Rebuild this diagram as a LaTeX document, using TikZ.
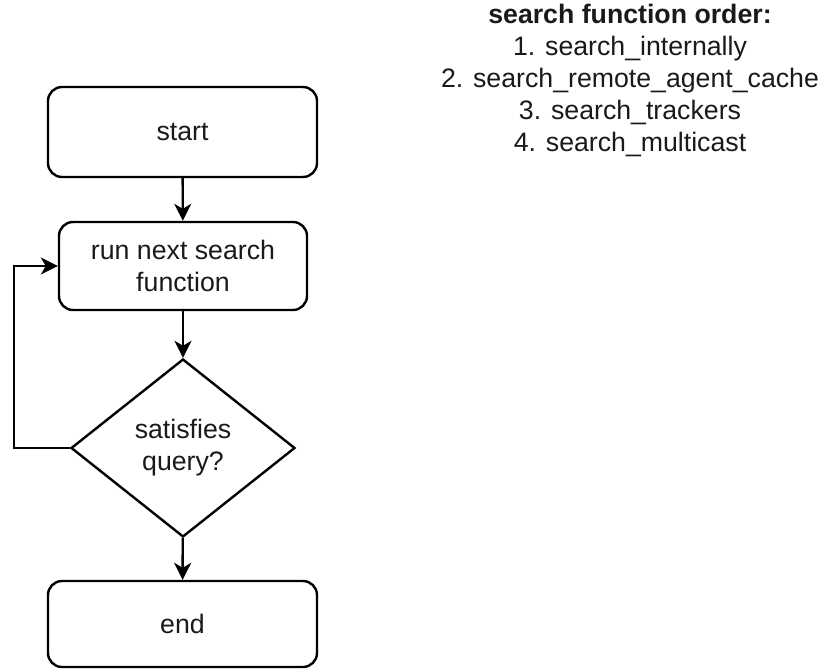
\documentclass[tikz,border=0pt]{standalone}
\usepackage{fontspec}
\setmainfont{Liberation Sans}
\usetikzlibrary{shapes.geometric,arrows.meta}
\definecolor{ink}{HTML}{1A1A1A}
\begin{document}
\begin{tikzpicture}[x=1pt,y=-1pt,
  every node/.style={font=\fontsize{26.7}{32}\selectfont, text=ink, align=center},
  stepbox/.style={draw, line width=2.4pt, rounded corners=14pt, inner sep=0pt},
  decision/.style={draw, line width=2.4pt, diamond, aspect=1.26, inner sep=0pt,
    minimum width=224pt, minimum height=178pt},
  flow/.style={line width=2.4pt, -{Stealth[length=17pt,width=17pt,inset=5pt]}}]
  % canvas
  \fill[white] (0,0) rectangle (822,669);
  \useasboundingbox (0,0) rectangle (822,669);

  % flowchart
  \node[stepbox, minimum width=269pt, minimum height=90pt] (start) at (182.5,132) {start};
  \node[stepbox, minimum width=248pt, minimum height=88pt] (run) at (183,266) {run next search\\function};
  \node[decision] (query) at (183,448) {satisfies\\query?};
  \node[stepbox, minimum width=269pt, minimum height=86pt] (end) at (182.5,624) {end};

  \coordinate (loop) at (14,448);

  \draw[flow] (start) -- (run);
  \draw[flow] (run) -- (query);
  \draw[flow] (query) -- (end);
  \draw[flow] (query.west) -- (loop) |- (run.west);

  % list of search functions
  \node (order) at (630,80) {\textbf{search function order:}\\
    1. search\_internally\\
    2. search\_remote\_agent\_cache\\
    3. search\_trackers\\
    4. search\_multicast};
\end{tikzpicture}
\end{document}
